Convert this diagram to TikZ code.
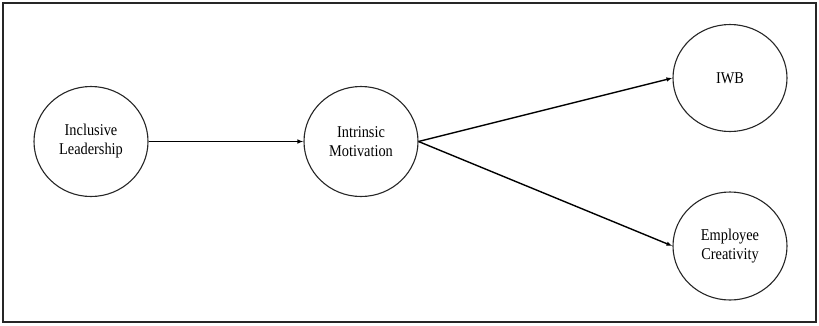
\documentclass[tikz,border=0pt]{standalone}
\usepackage{fontspec}
\setmainfont[FakeStretch=0.87]{Liberation Serif}
\usetikzlibrary{shapes.geometric,arrows.meta}
\begin{document}
\begin{tikzpicture}[x=1pt,y=-1pt,
  var/.style={draw=black!85,line width=1.1pt,ellipse,minimum width=114pt,minimum height=110pt,inner sep=0pt,
    align=center,font=\fontsize{16.5}{19}\selectfont,text=black},
  link/.style={draw=black,line width=1.4pt,-{Latex[length=6pt,width=4.5pt]}}]
\useasboundingbox (0,0) rectangle (819,325);
\draw[line width=1.6pt,black!85] (3,3) rectangle (816,322);
\node[var] (il) at (91,141.5) {Inclusive\\Leadership};
\node[var] (im) at (361,141.5) {Intrinsic\\Motivation};
\node[var,minimum height=107pt] (iwb) at (730,78) {IWB};
\node[var,minimum height=108pt] (ec) at (730,246) {Employee\\Creativity};
\draw[link] (il.east) -- (im.west);
\draw[link] (im.east) -- (iwb.west);
\draw[link] (im.east) -- (ec.west);
\end{tikzpicture}
\end{document}
